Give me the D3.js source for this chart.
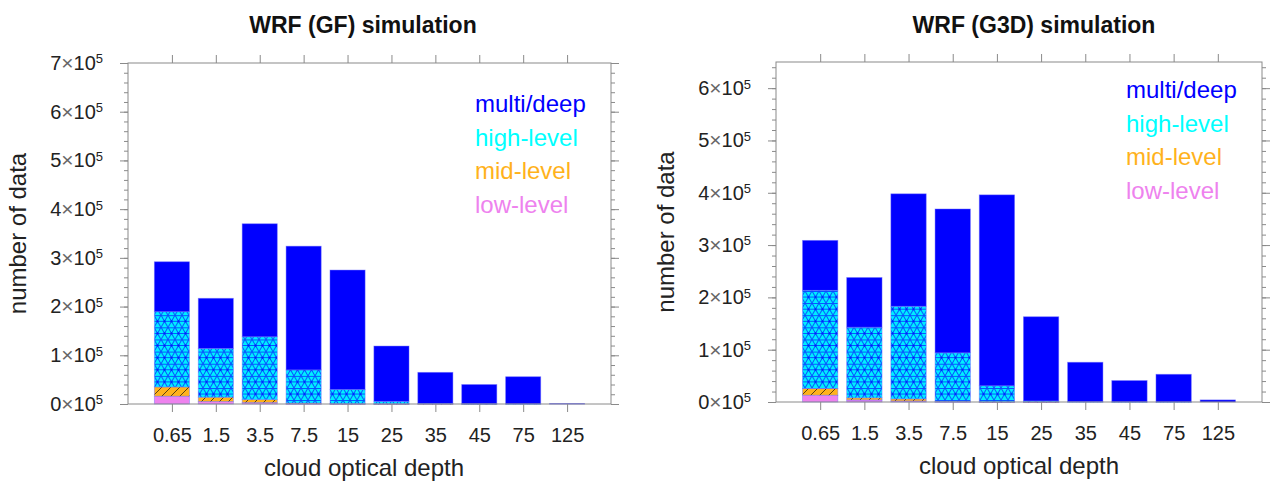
<!DOCTYPE html>
<html>
<head>
<meta charset="utf-8">
<script src="https://cdn.jsdelivr.net/npm/d3@7"></script>
<style>
  body { margin: 0; background: #fff; }
  svg { display: block; font-family: "Liberation Sans", Arial, sans-serif; }
</style>
</head>
<body>
<div id="wrapper"></div>
<script>
// cloud optical depth bins
const categories = ['0.65', '1.5', '3.5', '7.5', '15', '25', '35', '45', '75', '125'];
const seriesKeys = ['low', 'mid', 'high', 'multi'];
const seriesLabels = ['low-level', 'mid-level', 'high-level', 'multi/deep'];

// WRF (GF) - counts per cloud type (stacked from bottom)
const gfLow = [16000, 5000, 3000, 500, 300, 200, 0, 0, 0, 0];
const gfMid = [19000, 9000, 6000, 1500, 500, 300, 200, 100, 0, 0];
const gfHigh = [154500, 100000, 129000, 68000, 29000, 5000, 1000, 500, 300, 0];
const gfMulti = [102500, 103000, 232000, 254000, 245200, 113500, 63800, 39400, 55700, 1000];

// WRF (G3D)
const g3dLow = [13000, 4000, 2000, 500, 200, 100, 0, 0, 0, 0];
const g3dMid = [13000, 4000, 4000, 1000, 300, 100, 0, 0, 0, 0];
const g3dHigh = [187500, 135000, 177000, 92500, 30500, 1800, 500, 200, 100, 0];
const g3dMulti = [95500, 95000, 215000, 275000, 365000, 161000, 75500, 40800, 52900, 4000];

const yTicksGF = [0, 1, 2, 3, 4, 5, 6, 7];
const yTicksG3D = [0, 1, 2, 3, 4, 5, 6];

const width = 1273;
const height = 482;
const axisColor = '#8a8a8a';

const svg = d3.select('#wrapper')
  .append('svg')
  .attr('width', width)
  .attr('height', height);

// fill patterns
const defs = svg.append('defs');

const triW = 7;
const triH = triW * Math.sqrt(3);
const triPat = defs.append('pattern')
  .attr('id', 'pat-high')
  .attr('patternUnits', 'userSpaceOnUse')
  .attr('width', triW)
  .attr('height', triH);
triPat.append('rect').attr('width', triW).attr('height', triH).attr('fill', '#00eeff');
triPat.append('path')
  .attr('d', `M0,0L${triW},${triH}M${triW},0L0,${triH}M0,0.5H${triW}M0,${triH / 2}H${triW}`)
  .attr('stroke', '#0a30ff')
  .attr('stroke-width', 1)
  .attr('stroke-opacity', 0.85)
  .attr('fill', 'none');
triPat.append('circle').attr('cx', triW / 2).attr('cy', triH / 2).attr('r', 1.1).attr('fill', '#0020ff');

const midPat = defs.append('pattern')
  .attr('id', 'pat-mid')
  .attr('patternUnits', 'userSpaceOnUse')
  .attr('width', 9)
  .attr('height', 9);
midPat.append('rect').attr('width', 9).attr('height', 9).attr('fill', '#ffb21c');
midPat.append('path')
  .attr('d', 'M0,9L9,0M-2,2L2,-2M7,11L11,7')
  .attr('stroke', '#5a4010')
  .attr('stroke-width', 1)
  .attr('fill', 'none');

const lowPat = defs.append('pattern')
  .attr('id', 'pat-low')
  .attr('patternUnits', 'userSpaceOnUse')
  .attr('width', 14)
  .attr('height', 10);
lowPat.append('rect').attr('width', 14).attr('height', 10).attr('fill', '#ee82ee');
lowPat.append('circle').attr('cx', 4).attr('cy', 5).attr('r', 1).attr('fill', '#f8b8f8');

const fills = {
  low: 'url(#pat-low)',
  mid: 'url(#pat-mid)',
  high: 'url(#pat-high)',
  multi: '#0000ff',
};
const legendColors = {
  low: '#ee82ee',
  mid: '#ffb21c',
  high: '#00ffff',
  multi: '#0000ff',
};

function drawPanel(cfg) {
  const { left, right, top, bottom, yMax, yTicks, data, title, titleX, labelX, legendX, legendY } = cfg;

  const g = svg.append('g');

  const xScale = d3.scaleLinear()
    .domain([0, categories.length + 1])
    .range([left, right]);

  const yScale = d3.scaleLinear()
    .domain([0, yMax])
    .range([bottom, top]);

  const rows = categories.map((c, i) => ({
    cat: c,
    idx: i + 1,
    low: data.low[i],
    mid: data.mid[i],
    high: data.high[i],
    multi: data.multi[i],
  }));

  const stacked = d3.stack().keys(seriesKeys)(rows);
  const barWidth = (xScale(1) - xScale(0)) * 0.8;

  g.selectAll('.layer')
    .data(stacked)
    .join('g')
    .attr('class', 'layer')
    .attr('fill', (d) => fills[d.key])
    .selectAll('rect')
    .data((d) => d.filter((p) => p[1] - p[0] > 0))
    .join('rect')
    .attr('x', (d) => xScale(d.data.idx) - barWidth / 2)
    .attr('y', (d) => yScale(d[1]))
    .attr('width', barWidth)
    .attr('height', (d) => Math.max(0.6, yScale(d[0]) - yScale(d[1])))
    .attr('stroke', 'rgba(110,110,255,0.55)')
    .attr('stroke-width', 0.8);

  // frame
  g.append('rect')
    .attr('x', left)
    .attr('y', top)
    .attr('width', right - left)
    .attr('height', bottom - top)
    .attr('fill', 'none')
    .attr('stroke', axisColor)
    .attr('stroke-width', 1);

  const minorTicks = d3.range(0, yMax + 1, 20000);
  const majorTicks = yTicks.map((t) => t * 100000);

  const styleAxis = (sel) => {
    sel.select('.domain').remove();
    sel.selectAll('line').attr('stroke', axisColor);
  };

  // y axes: minor then major, both sides
  g.append('g')
    .attr('transform', `translate(${left},0)`)
    .call(d3.axisLeft(yScale).tickValues(minorTicks).tickSize(4).tickFormat(''))
    .call(styleAxis);
  g.append('g')
    .attr('transform', `translate(${right},0)`)
    .call(d3.axisRight(yScale).tickValues(minorTicks).tickSize(4).tickFormat(''))
    .call(styleAxis);
  g.append('g')
    .attr('transform', `translate(${right},0)`)
    .call(d3.axisRight(yScale).tickValues(majorTicks).tickSize(8).tickFormat(''))
    .call(styleAxis);

  const yAxis = g.append('g')
    .attr('transform', `translate(${left},0)`)
    .call(d3.axisLeft(yScale).tickValues(majorTicks).tickSize(8).tickPadding(17))
    .call(styleAxis);

  yAxis.selectAll('.tick text')
    .attr('fill', '#222')
    .style('font-size', '20px')
    .text(null)
    .each(function (d) {
      const t = d3.select(this);
      t.append('tspan').text(`${d / 100000}`);
      t.append('tspan').attr('fill', '#666').style('font-size', '21px').text('\u00d7');
      t.append('tspan').text('10');
      t.append('tspan').attr('dy', '-0.5em').style('font-size', '13px').text('5');
    });

  // x axes
  const xAxis = g.append('g')
    .attr('transform', `translate(0,${bottom})`)
    .call(
      d3.axisBottom(xScale)
        .tickValues(rows.map((r) => r.idx))
        .tickSize(8)
        .tickPadding(16)
        .tickFormat((d) => categories[d - 1])
    )
    .call(styleAxis);
  xAxis.selectAll('.tick text')
    .attr('fill', '#222')
    .style('font-size', '20px');

  g.append('g')
    .attr('transform', `translate(0,${top})`)
    .call(d3.axisTop(xScale).tickValues(rows.map((r) => r.idx)).tickSize(8).tickFormat(''))
    .call(styleAxis);

  // title and axis labels
  g.append('text')
    .attr('x', titleX)
    .attr('y', 33)
    .attr('text-anchor', 'middle')
    .style('font-size', '23px')
    .style('font-weight', 'bold')
    .attr('fill', '#111')
    .text(title);

  g.append('text')
    .attr('x', labelX)
    .attr('y', bottom + 72)
    .attr('text-anchor', 'middle')
    .style('font-size', '24px')
    .attr('fill', '#222')
    .text('cloud optical depth');

  g.append('text')
    .attr('transform', `translate(${left - 102},${(top + bottom) / 2}) rotate(-90)`)
    .attr('text-anchor', 'middle')
    .style('font-size', '24px')
    .attr('fill', '#222')
    .text('number of data');

  // legend (text only, top to bottom)
  const legendOrder = ['multi', 'high', 'mid', 'low'];
  g.selectAll('.legend')
    .data(legendOrder)
    .join('text')
    .attr('class', 'legend')
    .attr('x', legendX)
    .attr('y', (d, i) => legendY + i * 33.5)
    .style('font-size', '24px')
    .attr('fill', (d) => legendColors[d])
    .text((d) => seriesLabels[seriesKeys.indexOf(d)]);
}

drawPanel({
  left: 128,
  right: 611,
  top: 63,
  bottom: 404,
  yMax: 700000,
  yTicks: yTicksGF,
  data: { low: gfLow, mid: gfMid, high: gfHigh, multi: gfMulti },
  title: 'WRF (GF) simulation',
  titleX: 363,
  labelX: 364,
  legendX: 475,
  legendY: 112,
});

drawPanel({
  left: 776,
  right: 1262,
  top: 62,
  bottom: 402,
  yMax: 650000,
  yTicks: yTicksG3D,
  data: { low: g3dLow, mid: g3dMid, high: g3dHigh, multi: g3dMulti },
  title: 'WRF (G3D) simulation',
  titleX: 1034,
  labelX: 1019,
  legendX: 1126,
  legendY: 98,
});
</script>
</body>
</html>
